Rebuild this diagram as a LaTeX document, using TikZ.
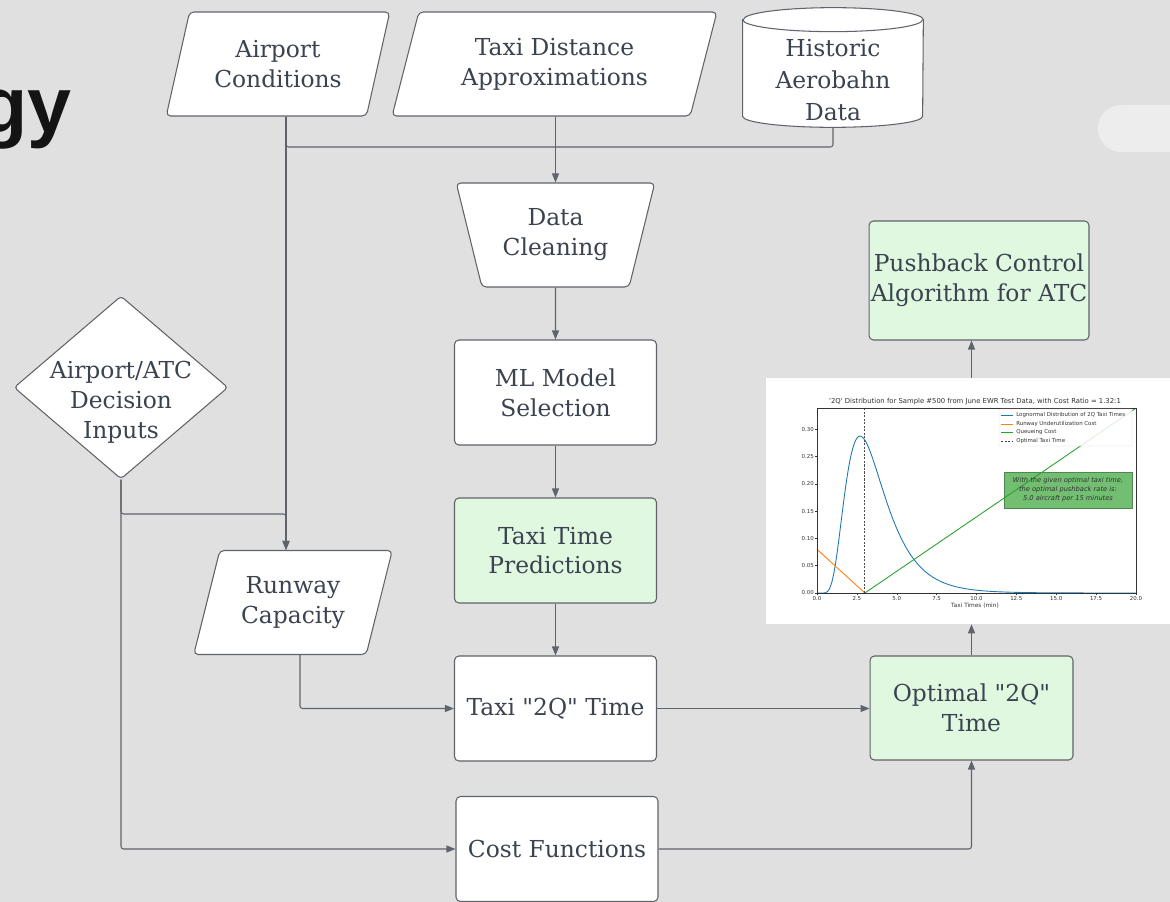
\documentclass[tikz,border=0pt]{standalone}
\usepackage{fontspec}
\setmainfont{DejaVu Serif}
\newfontfamily\plotfont{DejaVu Sans}
\newfontfamily\headfont{Liberation Sans}
\usetikzlibrary{shapes.geometric,arrows.meta}

\definecolor{bgc}{HTML}{E0E0E0}
\definecolor{linec}{HTML}{5F636A}
\definecolor{textc}{HTML}{3B4350}
\definecolor{greenc}{HTML}{E0F8E0}
\definecolor{mplblue}{HTML}{1F77B4}
\definecolor{mplorange}{HTML}{FF7F0E}
\definecolor{mplgreen}{HTML}{2CA02C}
\definecolor{notec}{HTML}{72BF72}

\begin{document}
\begin{tikzpicture}[x=0.02cm,y=-0.02cm,
    lbl/.style={text=textc, font=\fontsize{13.3}{17}\selectfont, align=center},
    proc/.style={lbl, draw=linec, line width=0.6pt, fill=white, rounded corners=2.5pt,
        minimum width=4.04cm, minimum height=2.1cm, inner sep=0pt},
    done/.style={proc, fill=greenc},
    inputbox/.style={lbl, trapezium, trapezium stretches=true,
        trapezium left angle=70.5, trapezium right angle=109.5,
        draw=linec, line width=0.6pt, fill=white, rounded corners=2.5pt,
        minimum height=2.08cm, inner sep=0pt},
    conn/.style={draw=linec, line width=0.6pt, rounded corners=1.5pt,
        -{Triangle[length=1.8mm,width=1.4mm]}},
    wire/.style={draw=linec, line width=0.6pt, rounded corners=1.5pt},
    tiny/.style={font=\plotfont\fontsize{3.1}{3.7}\selectfont, text=black!80, inner sep=0.6pt}
]
    \useasboundingbox (0,0) rectangle (1170,902);
    \fill[bgc] (0,0) rectangle (1170,902);
    \clip (0,0) rectangle (1170,902);
    \fill[black!7, rounded corners=0.46cm] (1098,105) rectangle (1220,152);

    \node[font=\headfont\bfseries\fontsize{45}{50}\selectfont, text=black!92,
        anchor=base east, inner sep=0pt] (head) at (72,133) {gy};

    % inputs
    \node[inputbox, minimum width=4.48cm] (ac) at (278,64) {Airport\\Conditions};
    \node[inputbox, minimum width=6.5cm] (tda) at (554.5,64) {Taxi Distance\\Approximations};
    \node[minimum width=3.6cm, minimum height=2.38cm, inner sep=0pt] (hist) at (833,67.5) {};
    \draw[draw=linec, line width=0.6pt, fill=white]
        ([yshift=-0.24cm]hist.north west) -- ([yshift=0.22cm]hist.south west)
        arc[start angle=180, end angle=360, x radius=1.8cm, y radius=0.22cm]
        -- ([yshift=-0.24cm]hist.north east)
        arc[start angle=0, end angle=180, x radius=1.8cm, y radius=0.24cm] -- cycle;
    \draw[draw=linec, line width=0.6pt] ([yshift=-0.24cm]hist.north west)
        arc[start angle=180, end angle=360, x radius=1.8cm, y radius=0.24cm];
    \node[lbl, font=\fontsize{13.3}{18.2}\selectfont] (histtext) at (833,80) {Historic\\Aerobahn\\Data};

    \node[diamond, draw=linec, line width=0.6pt, fill=white, rounded corners=2pt,
        minimum width=4.28cm, minimum height=3.66cm, inner sep=0pt] (dec) at (121,387.5) {};
    \node[lbl] (dectext) at (121,402) {Airport/ATC\\Decision\\Inputs};
    \node[inputbox, minimum width=4cm] (rc) at (293,602.5) {Runway\\Capacity};

    % processing column
    \node[lbl, trapezium, trapezium stretches=true,
        trapezium left angle=109.5, trapezium right angle=109.5,
        draw=linec, line width=0.6pt, fill=white, rounded corners=2.5pt,
        minimum width=3.98cm, minimum height=2.08cm, inner sep=0pt] (dc) at (555.5,235) {Data\\Cleaning};
    \node[proc] (ml) at (555.5,392.5) {ML Model\\Selection};
    \node[done] (ttp) at (555.5,550.5) {Taxi Time\\Predictions};
    \node[proc] (t2q) at (555.5,708.5) {Taxi \textquotedbl 2Q\textquotedbl\ Time};
    \node[proc] (cf) at (557,849) {Cost Functions};

    % outputs
    \node[done, minimum width=4.06cm, minimum height=2.08cm] (opt) at (971.5,708) {Optimal \textquotedbl 2Q\textquotedbl\\Time};
    \node[done, minimum width=4.4cm, minimum height=2.38cm] (push) at (979,280.5) {Pushback Control\\Algorithm for ATC};
    \node[fill=white, minimum width=8.08cm, minimum height=4.92cm, inner sep=0pt] (chart) at (968,501) {};

    % plot inside the chart
    \draw[fill=notec, draw=notec!70!black, line width=0.3pt] (1004,472) rectangle (1132,508);
    \begin{scope}[shift={(817,593)}, x=0.319cm, y=10.92cm]
        \draw[mplblue, line width=0.5pt] (0,0) -- (0.3,0)
            plot[domain=0.3:20, samples=160, smooth]
            (\x, {exp(-(ln(\x)-1.2067)*(ln(\x)-1.2067)/0.4268)/(\x*1.1581)});
        \draw[mplorange, line width=0.5pt] (0,0.08) -- (3,0);
        \draw[mplgreen, line width=0.5pt] (3,0) -- (20,0.3386);
        \draw[black!70, line width=0.5pt, dash pattern=on 1.2pt off 0.8pt] (3,0) -- (3,0.3386);
        \draw[black!80, line width=0.3pt] (0,0) rectangle (20,0.3386);
        \foreach \t [count=\i] in {0.0,2.5,5.0,7.5,10.0,12.5,15.0,17.5,20.0}
            \draw[black!80, line width=0.25pt] (\t,0) -- (\t,-0.004) node[tiny, below] (xt\i) {\t};
        \foreach \v [count=\i] in {0.00,0.05,0.10,0.15,0.20,0.25,0.30}
            \draw[black!80, line width=0.25pt] (0,\v) -- (-0.12,\v) node[tiny, left] (yt\i) {\v};
    \end{scope}
    \node[tiny, font=\plotfont\fontsize{3.3}{4}\selectfont] (xlab) at (975,606) {Taxi Times (min)};
    \node[tiny, font=\plotfont\fontsize{3.9}{4.5}\selectfont] (ptitle) at (975,402)
        {'2Q' Distribution for Sample \#500 from June EWR Test Data, with Cost Ratio = 1.32:1};
    \node[tiny, font=\plotfont\itshape\fontsize{3.8}{5.1}\selectfont, align=center] (note) at (1068,490)
        {With the given optimal taxi time,\\the optimal pushback rate is:\\5.0 aircraft per 15 minutes};
    \draw[draw=black!15, fill=white, fill opacity=0.85, line width=0.2pt, rounded corners=0.5pt] (999,409) rectangle (1132,446);
    \foreach \yy/\col/\txt [count=\i] in {415/mplblue/Lognormal Distribution of 2Q Taxi Times,
            424/mplorange/Runway Underutilization Cost, 432/mplgreen/Queueing Cost}
        \draw[\col, line width=0.5pt] (1001,\yy) -- (1013,\yy) node[tiny, right, xshift=1pt] (leg\i) {\txt};
    \draw[black!75, line width=0.5pt, dash pattern=on 1.2pt off 0.8pt] (1001,441) -- (1013,441)
        node[tiny, right, xshift=1pt] (leg4) {Optimal Taxi Time};

    % connectors
    \coordinate (xac) at (286,0);
    \coordinate (xrc) at (300,0);
    \coordinate (ybus) at (0,147);
    \coordinate (ydec) at (0,514);
    \draw[conn] (ac.south -| xac) -- (rc.north -| xac);
    \draw[wire] (ac.south -| xac) |- (dc.north |- ybus);
    \draw[wire] (hist.south) |- (dc.north |- ybus);
    \draw[conn] (tda.south -| dc.north) -- (dc.north);
    \draw[conn] (dc.south) -- (ml.north);
    \draw[conn] (ml.south) -- (ttp.north);
    \draw[conn] (ttp.south) -- (t2q.north);
    \draw[conn] (dec.south) -- (dec.south |- ydec) -| (rc.north -| xac);
    \draw[conn] (dec.south) |- (cf.west);
    \draw[conn] (rc.south -| xrc) |- (t2q.west);
    \draw[conn] (t2q.east) -- (t2q.east -| opt.west);
    \draw[conn] (cf.east) -| (opt.south);
    \draw[conn] (opt.north) -- (opt.north |- chart.south);
    \draw[conn] (opt.north |- chart.north) -- (opt.north |- push.south);
\end{tikzpicture}
\end{document}
